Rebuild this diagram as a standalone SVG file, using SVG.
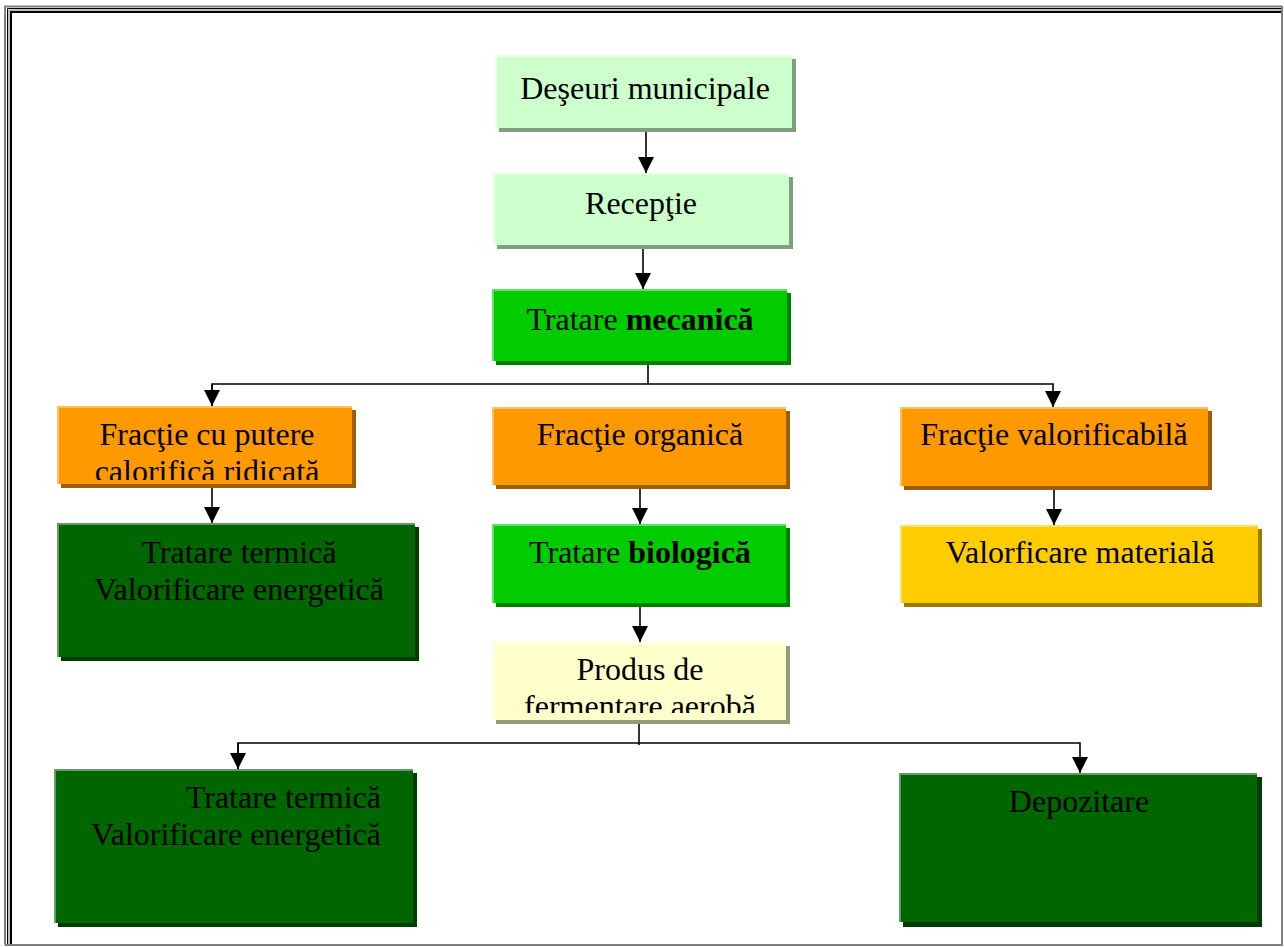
<svg xmlns="http://www.w3.org/2000/svg" width="1284" height="947" viewBox="0 0 1284 947">
<style>
text{font-family:"Liberation Serif","Times New Roman",serif;font-size:32px;fill:#000}
.c{text-anchor:middle}
.e{text-anchor:end}
.b{font-weight:bold}
.ln{fill:none;stroke:#000;stroke-width:1.6}
.lg{fill:#CCFFCC}.lgs{fill:#7F9F7F}.lgh{stroke:#E6FFE6;stroke-width:2;fill:none}
.gr{fill:#00CC00}.grs{fill:#008000}.grh{stroke:#66DD66;stroke-width:2;fill:none}
.or{fill:#FF9900}.ors{fill:#996000}.orh{stroke:#FFC060;stroke-width:2;fill:none}
.dg{fill:#006600}.dgs{fill:#003C00}.dgh{stroke:#669966;stroke-width:2;fill:none}
.ye{fill:#FFCC00}.yes{fill:#9A7A00}.yeh{stroke:#FFE066;stroke-width:2;fill:none}
.ly{fill:#FFFFCC}.lys{fill:#99997A}.lyh{stroke:#FFFFE6;stroke-width:2;fill:none}
</style>
<defs>
<marker id="ah" viewBox="0 0 16 16" refX="16" refY="8" markerWidth="16" markerHeight="16" markerUnits="userSpaceOnUse" orient="auto">
<path d="M0,0 L16,8 L0,16 Z" fill="#000"/>
</marker>
<clipPath id="clipF"><rect x="57" y="406" width="295" height="74"/></clipPath>
<clipPath id="clipP"><rect x="492" y="642" width="294" height="71"/></clipPath>
</defs>
<rect x="0" y="0" width="1284" height="947" fill="#fff"/>
<g id="frame" fill="none">
<path d="M5,945 V6.5 H1282" stroke="#808080" stroke-width="2"/>
<path d="M7.5,945 V8.5 H1282" stroke="#000" stroke-width="1"/>
<path d="M9,945 V10 H1282" stroke="#808080" stroke-width="1"/>
<path d="M11,945 V12 H1282" stroke="#000" stroke-width="2"/>
<path d="M1282,6 V945 H5" stroke="#808080" stroke-width="2"/>
</g>
<g id="connectors">
<line class="ln" x1="646" y1="128" x2="646" y2="173" marker-end="url(#ah)"/>
<line class="ln" x1="643" y1="245" x2="643" y2="289" marker-end="url(#ah)"/>
<polyline class="ln" points="648,361 648,384"/>
<polyline class="ln" points="212,406 212,384 1053,384 1053,407" marker-end="url(#ah)"/>
<path class="ln" d="M212,384 V406" marker-end="url(#ah)"/>
<line class="ln" x1="212" y1="484" x2="212" y2="523" marker-end="url(#ah)"/>
<line class="ln" x1="640" y1="485" x2="640" y2="524" marker-end="url(#ah)"/>
<line class="ln" x1="1054" y1="486" x2="1054" y2="525" marker-end="url(#ah)"/>
<line class="ln" x1="640" y1="603" x2="640" y2="642" marker-end="url(#ah)"/>
<polyline class="ln" points="639,720 639,745"/>
<polyline class="ln" points="238,769 238,743 1080,743 1080,773" marker-end="url(#ah)"/>
<path class="ln" d="M238,743 V769" marker-end="url(#ah)"/>
</g>
<g id="n-deseuri">
<rect class="lgs" x="499" y="59" width="297" height="73"/>
<rect class="lg" x="495" y="55" width="297" height="73"/>
<path class="lgh" d="M496,128 V56 H792"/>
<text class="c" x="645" y="99">Deşeuri municipale</text>
</g>
<g id="n-receptie">
<rect class="lgs" x="497" y="177" width="296" height="72"/>
<rect class="lg" x="493" y="173" width="296" height="72"/>
<path class="lgh" d="M494,245 V174 H789"/>
<text class="c" x="641" y="214">Recepţie</text>
</g>
<g id="n-mecanica">
<rect class="grs" x="496" y="293" width="295" height="72"/>
<rect class="gr" x="492" y="289" width="295" height="72"/>
<path class="grh" d="M493,361 V290 H787"/>
<text class="c" x="640" y="330">Tratare <tspan class="b">mecanică</tspan></text>
</g>
<g id="n-fractie-putere">
<rect class="ors" x="61" y="410" width="295" height="78"/>
<rect class="or" x="57" y="406" width="295" height="78"/>
<path class="orh" d="M58,484 V407 H352"/>
<g clip-path="url(#clipF)">
<text class="c" x="207" y="445">Fracţie cu putere</text>
<text class="c" x="207" y="482">calorifică ridicată</text>
</g>
</g>
<g id="n-fractie-organica">
<rect class="ors" x="496" y="411" width="294" height="78"/>
<rect class="or" x="492" y="407" width="294" height="78"/>
<path class="orh" d="M493,485 V408 H786"/>
<text class="c" x="640" y="445">Fracţie organică</text>
</g>
<g id="n-fractie-valorificabila">
<rect class="ors" x="904" y="411" width="308" height="79"/>
<rect class="or" x="900" y="407" width="308" height="79"/>
<path class="orh" d="M901,486 V408 H1208"/>
<text class="c" x="1054" y="445">Fracţie valorificabilă</text>
</g>
<g id="n-termica-1">
<rect class="dgs" x="61" y="527" width="358" height="134"/>
<rect class="dg" x="57" y="523" width="358" height="134"/>
<path class="dgh" d="M58,657 V524 H415"/>
<text class="c" x="239" y="563">Tratare termică</text>
<text class="c" x="239" y="600">Valorificare energetică</text>
</g>
<g id="n-biologica">
<rect class="grs" x="496" y="528" width="294" height="79"/>
<rect class="gr" x="492" y="524" width="294" height="79"/>
<path class="grh" d="M493,603 V525 H786"/>
<text class="c" x="640" y="563">Tratare <tspan class="b">biologică</tspan></text>
</g>
<g id="n-valorficare">
<rect class="yes" x="904" y="529" width="358" height="78"/>
<rect class="ye" x="900" y="525" width="358" height="78"/>
<path class="yeh" d="M901,603 V526 H1258"/>
<text class="c" x="1080" y="563">Valorficare materială</text>
</g>
<g id="n-produs">
<rect class="lys" x="496" y="646" width="294" height="78"/>
<rect class="ly" x="492" y="642" width="294" height="78"/>
<path class="lyh" d="M493,720 V643 H786"/>
<g clip-path="url(#clipP)">
<text class="c" x="640" y="680">Produs de</text>
<text class="c" x="640" y="717">fermentare aerobă</text>
</g>
</g>
<g id="n-termica-2">
<rect class="dgs" x="58" y="773" width="359" height="154"/>
<rect class="dg" x="54" y="769" width="359" height="154"/>
<path class="dgh" d="M55,923 V770 H413"/>
<text class="e" x="381" y="808">Tratare termică</text>
<text class="e" x="381" y="845">Valorificare energetică</text>
</g>
<g id="n-depozitare">
<rect class="dgs" x="903" y="777" width="359" height="150"/>
<rect class="dg" x="899" y="773" width="358" height="149"/>
<path class="dgh" d="M900,922 V774 H1257"/>
<text class="c" x="1079" y="812">Depozitare</text>
</g>
</svg>
